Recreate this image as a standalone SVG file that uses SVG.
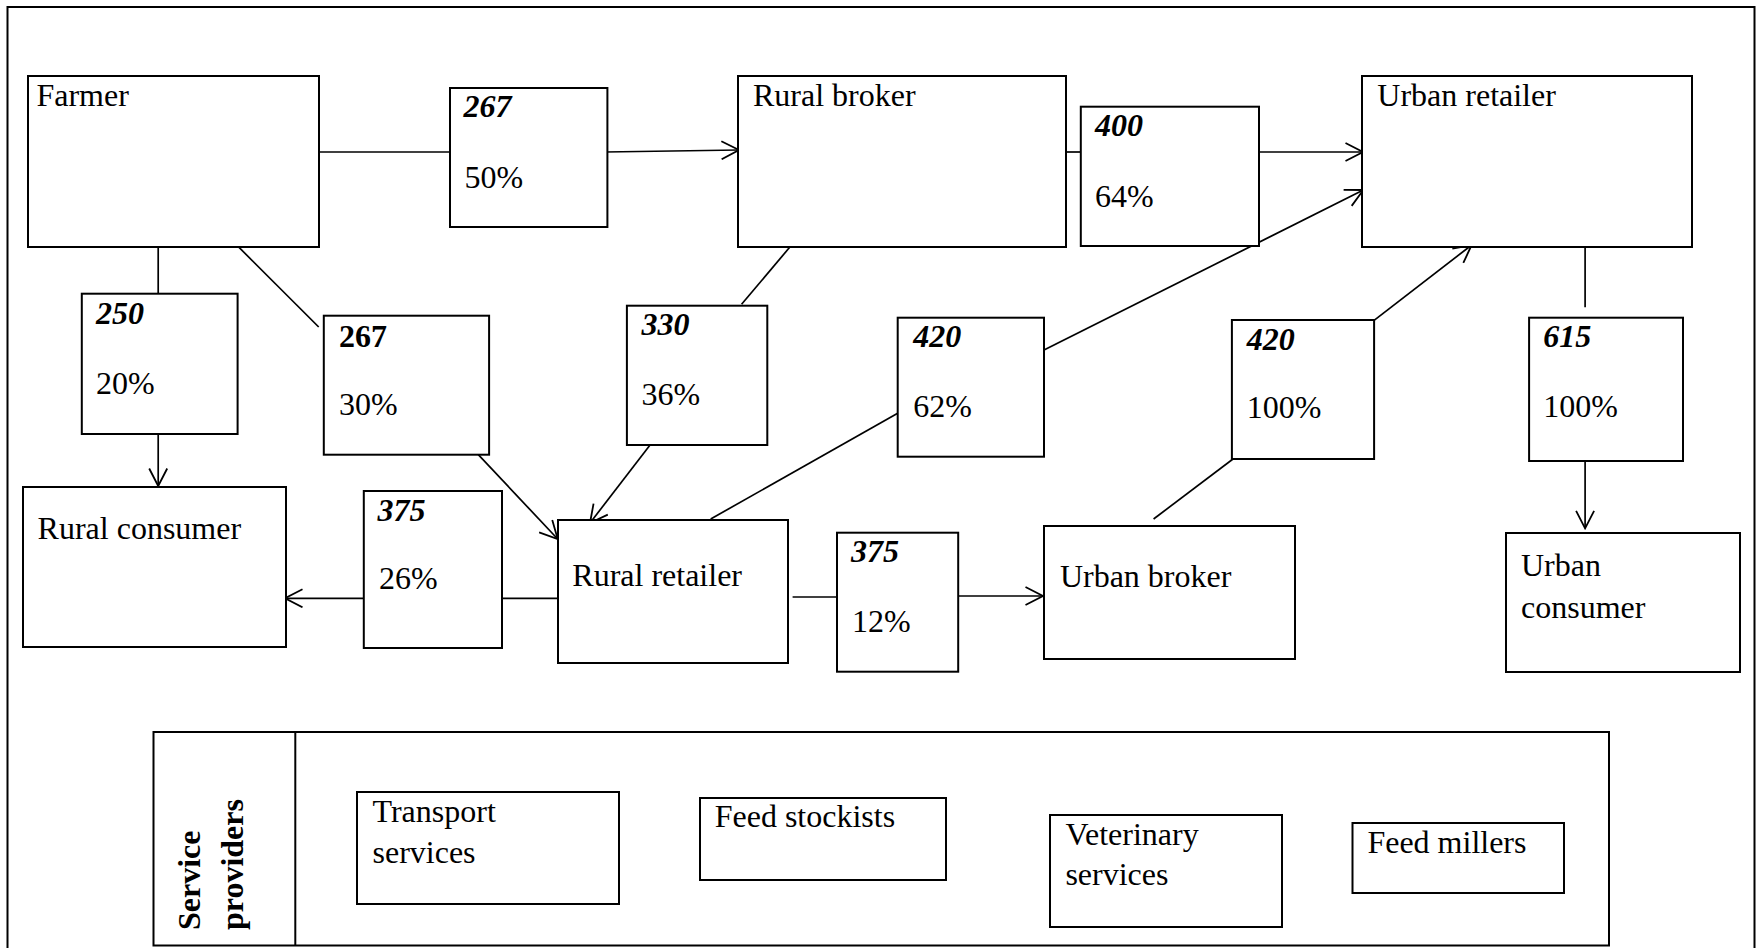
<svg xmlns="http://www.w3.org/2000/svg" width="1756" height="948" viewBox="0 0 1756 948">
<defs>
<style>
.box{fill:#fff;stroke:#000;stroke-width:2}
.ln{fill:none;stroke:#000;stroke-width:1.7}
.t{font-family:"Liberation Serif","Times New Roman",serif;font-size:32px;fill:#000}
.n{font-family:"Liberation Serif","Times New Roman",serif;font-size:32px;font-weight:bold;font-style:italic;fill:#000}
.nb{font-family:"Liberation Serif","Times New Roman",serif;font-size:32px;font-weight:bold;fill:#000}
</style>
<marker id="arr" markerUnits="userSpaceOnUse" viewBox="0 0 20 20" refX="18.5" refY="10" markerWidth="20" markerHeight="20" orient="auto">
<path d="M1,1 L18.5,10 L1,19" fill="none" stroke="#000" stroke-width="1.8"/>
</marker>
</defs>
<rect x="0" y="0" width="1756" height="948" fill="#fff"/>
<rect id="frame" x="7.5" y="7" width="1747" height="960" fill="none" stroke="#000" stroke-width="2"/>

<g id="connectors">
<line class="ln" x1="318.7" y1="152" x2="450" y2="152"/>
<line class="ln" x1="605" y1="152" x2="739" y2="150" marker-end="url(#arr)"/>
<line class="ln" x1="1066" y1="152" x2="1081" y2="152"/>
<line class="ln" x1="1253" y1="152" x2="1363" y2="152" marker-end="url(#arr)"/>
<line class="ln" x1="158.2" y1="244.3" x2="158.2" y2="295"/>
<line class="ln" x1="158.2" y1="432.3" x2="158.2" y2="486" marker-end="url(#arr)"/>
<line class="ln" x1="235.3" y1="243.7" x2="318.7" y2="327"/>
<line class="ln" x1="478.3" y1="454.7" x2="557.7" y2="539" marker-end="url(#arr)"/>
<line class="ln" x1="792.2" y1="244.3" x2="741.6" y2="304.3"/>
<line class="ln" x1="651.4" y1="443.3" x2="590" y2="523" marker-end="url(#arr)"/>
<line class="ln" x1="557.5" y1="598.3" x2="496.2" y2="598.3"/>
<line class="ln" x1="363" y1="598.3" x2="285" y2="598.3" marker-end="url(#arr)"/>
<line class="ln" x1="792.6" y1="597" x2="837" y2="597"/>
<line class="ln" x1="958" y1="596" x2="1043" y2="596" marker-end="url(#arr)"/>
<line class="ln" x1="710.7" y1="519" x2="897.7" y2="413.3"/>
<line class="ln" x1="1044" y1="350" x2="1363.3" y2="190" marker-end="url(#arr)"/>
<line class="ln" x1="1153.6" y1="519" x2="1238.3" y2="455"/>
<line class="ln" x1="1365" y1="327.3" x2="1471.7" y2="245" marker-end="url(#arr)"/>
<line class="ln" x1="1585.1" y1="246.7" x2="1585.1" y2="307.3"/>
<line class="ln" x1="1585.1" y1="455" x2="1585.1" y2="528.3" marker-end="url(#arr)"/>
</g>

<g id="farmer"><rect class="box" x="28" y="76" width="291" height="171"/><text class="t" x="36.4" y="106">Farmer</text></g>
<g id="rural-broker"><rect class="box" x="738" y="76" width="328" height="171"/><text class="t" x="753" y="106">Rural broker</text></g>
<g id="urban-retailer"><rect class="box" x="1362" y="76" width="330" height="171"/><text class="t" x="1377.3" y="106">Urban retailer</text></g>
<g id="rural-consumer"><rect class="box" x="23" y="487" width="263" height="160"/><text class="t" x="37.6" y="539.3">Rural consumer</text></g>
<g id="rural-retailer"><rect class="box" x="558" y="520" width="230" height="143"/><text class="t" x="572.3" y="586">Rural retailer</text></g>
<g id="urban-broker"><rect class="box" x="1044" y="526" width="251" height="133"/><text class="t" x="1059.9" y="587">Urban broker</text></g>
<g id="urban-consumer"><rect class="box" x="1506" y="533" width="234" height="139"/><text class="t" x="1521" y="576">Urban</text><text class="t" x="1521" y="618.3">consumer</text></g>

<g id="m-267-50"><rect class="box" x="450" y="88" width="157.4" height="139"/><text class="n" x="463.4" y="117.3">267</text><text class="t" x="464.6" y="187.7">50%</text></g>
<g id="m-250-20"><rect class="box" x="81.8" y="293.7" width="155.8" height="140.3"/><text class="n" x="96" y="324">250</text><text class="t" x="96" y="394.3">20%</text></g>
<g id="m-267-30"><rect class="box" x="323.8" y="315.7" width="165.3" height="139"/><text class="nb" x="339" y="346.7">267</text><text class="t" x="339" y="415">30%</text></g>
<g id="m-330-36"><rect class="box" x="626.9" y="305.7" width="140.4" height="139.3"/><text class="n" x="641.5" y="335">330</text><text class="t" x="641.5" y="405">36%</text></g>
<g id="m-420-62"><rect class="box" x="897.7" y="317.7" width="146.3" height="139"/><text class="n" x="913.2" y="346.7">420</text><text class="t" x="913.2" y="416.7">62%</text></g>
<g id="m-400-64"><rect class="box" x="1080.8" y="106.7" width="178.2" height="139.3"/><text class="n" x="1095" y="136">400</text><text class="t" x="1095" y="206.7">64%</text></g>
<g id="m-420-100"><rect class="box" x="1231.9" y="320" width="142.2" height="139"/><text class="n" x="1246.8" y="350">420</text><text class="t" x="1246.8" y="418.3">100%</text></g>
<g id="m-615-100"><rect class="box" x="1529.1" y="317.7" width="153.9" height="143.3"/><text class="n" x="1543.3" y="347.3">615</text><text class="t" x="1543.3" y="416.7">100%</text></g>
<g id="m-375-26"><rect class="box" x="363.8" y="491" width="138.2" height="157"/><text class="n" x="377.6" y="521">375</text><text class="t" x="379" y="589.3">26%</text></g>
<g id="m-375-12"><rect class="box" x="837" y="532.7" width="121.2" height="139"/><text class="n" x="851" y="561.7">375</text><text class="t" x="852" y="631.7">12%</text></g>

<g id="service-providers">
<rect class="box" x="153.5" y="732" width="1455.5" height="213.5"/>
<line x1="295.3" y1="732" x2="295.3" y2="945.5" stroke="#000" stroke-width="2"/>
<text class="nb" transform="translate(199.5,930) rotate(-90)">Service</text>
<text class="nb" transform="translate(243,930) rotate(-90)">providers</text>
</g>
<g id="transport"><rect class="box" x="357" y="792" width="262" height="112"/><text class="t" x="372.5" y="821.7">Transport</text><text class="t" x="372.5" y="863.3">services</text></g>
<g id="feed-stockists"><rect class="box" x="700" y="798" width="246" height="82"/><text class="t" x="714.7" y="826.7">Feed stockists</text></g>
<g id="veterinary"><rect class="box" x="1050" y="815" width="232" height="112"/><text class="t" x="1065.4" y="845">Veterinary</text><text class="t" x="1065.4" y="885">services</text></g>
<g id="feed-millers"><rect class="box" x="1352.5" y="823" width="211.5" height="70"/><text class="t" x="1367.4" y="852.7">Feed millers</text></g>
</svg>
